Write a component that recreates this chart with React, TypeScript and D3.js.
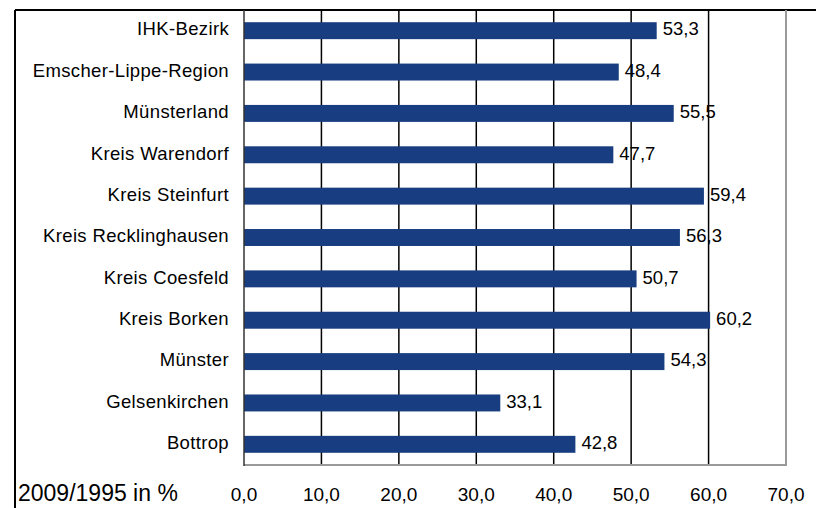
import React from "react";
import * as d3 from "d3";

const categories = [
  "IHK-Bezirk",
  "Emscher-Lippe-Region",
  "Münsterland",
  "Kreis Warendorf",
  "Kreis Steinfurt",
  "Kreis Recklinghausen",
  "Kreis Coesfeld",
  "Kreis Borken",
  "Münster",
  "Gelsenkirchen",
  "Bottrop",
];
const values = [53.3, 48.4, 55.5, 47.7, 59.4, 56.3, 50.7, 60.2, 54.3, 33.1, 42.8];
const ticks = [0, 10, 20, 30, 40, 50, 60, 70];
const axisTitle = "2009/1995 in %";

const W = 816;
const H = 508;
const plotLeft = 244;
const plotRight = 786;
const plotTop = 10;
const plotBottom = 465;
const barColor = "#183E81";
const font = "'Liberation Sans', Arial, sans-serif";

const fmt = (v: number) => v.toFixed(1).replace(".", ",");

export default function App() {
  const x = d3.scaleLinear().domain([0, 70]).range([plotLeft, plotRight]);
  const y = d3
    .scaleBand<string>()
    .domain(categories)
    .range([plotTop, plotBottom])
    .paddingInner(0.59)
    .paddingOuter(0.295);
  const bw = y.bandwidth();

  return (
    <svg
      width={W}
      height={H}
      style={{ position: "absolute", left: 0, top: 0, background: "#fff" }}
      fontFamily={font}
    >
      <rect x={0} y={0} width={W} height={H} fill="#fff" />
      {/* outer frame */}
      <line x1={15} y1={10} x2={15} y2={H} stroke="#000" strokeWidth={2} />
      <line x1={15} y1={10} x2={W} y2={10} stroke="#000" strokeWidth={2} />

      {/* grid lines */}
      {ticks.slice(1, -1).map((t) => (
        <line key={t} x1={x(t)} x2={x(t)} y1={plotTop} y2={plotBottom} stroke="#000" strokeWidth={1.5} />
      ))}
      {/* plot border right/bottom */}
      <line x1={x(70)} x2={x(70)} y1={plotTop} y2={plotBottom + 1} stroke="#9a9a9a" strokeWidth={2} />
      <line x1={plotLeft} x2={x(70) + 1} y1={plotBottom} y2={plotBottom} stroke="#9a9a9a" strokeWidth={2} />

      {/* bars */}
      {categories.map((c, i) => (
        <rect key={c} x={x(0)} y={y(c)!} width={x(values[i]) - x(0)} height={bw} fill={barColor} />
      ))}

      {/* y axis line */}
      <line x1={plotLeft} x2={plotLeft} y1={plotTop} y2={plotBottom + 1} stroke="#333" strokeWidth={1.5} />

      {/* category labels */}
      {categories.map((c) => (
        <text key={c} x={229} y={y(c)! + bw / 2 + 4.8} textAnchor="end" fontSize={18.5} fill="#000" letterSpacing={0.35}>
          {c}
        </text>
      ))}

      {/* value labels */}
      {categories.map((c, i) => (
        <text key={c} x={x(values[i]) + 6} y={y(c)! + bw / 2 + 4.8} fontSize={18.5} fill="#000">
          {fmt(values[i])}
        </text>
      ))}

      {/* tick labels */}
      {ticks.map((t) => (
        <text key={t} x={x(t)} y={501} textAnchor="middle" fontSize={19} fill="#000">
          {fmt(t)}
        </text>
      ))}

      <text x={18} y={501} fontSize={23} fill="#000">
        {axisTitle}
      </text>
    </svg>
  );
}
